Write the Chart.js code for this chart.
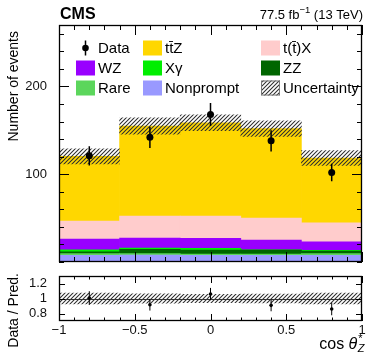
<!DOCTYPE html>
<html>
<head>
<meta charset="utf-8">
<title>ttZ differential cos theta*_Z</title>
<script src="https://cdn.jsdelivr.net/npm/chart.js@4.4.1/dist/chart.umd.min.js"></script>
<style>
  html, body { margin: 0; padding: 0; background: #fff; }
  #wrap { position: relative; width: 366px; height: 353px; overflow: hidden; background: #fff; }
  #wrap canvas { position: absolute; left: 0; }
  #main { top: 0; }
  #ratio { top: 262px; }
</style>
</head>
<body>
<div id="wrap">
  <canvas id="main" width="366" height="270"></canvas>
  <canvas id="ratio" width="366" height="91"></canvas>
</div>
<script>
// Bin edges in cos(theta*_Z) and yields per bin
const binEdges = [-1, -0.6, -0.2, 0.2, 0.6, 1];
const dataCounts = [121, 142, 168, 138, 102];
const dataErrors = [11, 12, 13, 12, 10];
const ttZ = [73.6, 102.5, 106.3, 101.8, 74.0];
const ttX = [20.7, 25.1, 25.3, 25.2, 21.4];
const WZ = [12.0, 11.3, 11.3, 10.9, 9.8];
const Xgamma = [2.3, 1.5, 2.2, 0.5, 0.8];
const ZZ = [2.2, 5.0, 4.5, 4.5, 3.0];
const rare = [2.0, 1.5, 1.5, 1.5, 2.0];
const nonprompt = [7.5, 8.0, 7.5, 7.5, 7.5];
const predUncertainty = [8.5, 9.4, 9.0, 8.8, 8.5];

// Axis tick values
const xTickValues = [-1, -0.5, 0, 0.5, 1];
const yTickValues = [100, 200];
const ratioTickValues = [0.8, 1, 1.2];

const FONT = "'Liberation Sans', Arial, Helvetica, sans-serif";

// Stack, bottom to top
const components = [
  { label: 'Nonprompt', values: nonprompt, color: '#9999ff' },
  { label: 'Rare',      values: rare,      color: '#5cd65c' },
  { label: 'ZZ',        values: ZZ,        color: '#006600' },
  { label: 'X\u03b3',   values: Xgamma,    color: '#00ee00' },
  { label: 'WZ',        values: WZ,        color: '#9900ff' },
  { label: 't(t\u0304)X', values: ttX,     color: '#ffcccc' },
  { label: 'tt\u0304Z', values: ttZ,       color: '#ffd700' }
];

const centers = binEdges.slice(0, -1).map((e, i) => (e + binEdges[i + 1]) / 2);
const totals = centers.map((_, i) => components.reduce((s, c) => s + c.values[i], 0));
const ratio = dataCounts.map((d, i) => d / totals[i]);
const ratioErr = dataErrors.map((e, i) => e / totals[i]);
const ratioUnc = predUncertainty.map((u, i) => u / totals[i]);

function hatch(ctx) {
  const s = 4;
  const c = document.createElement('canvas');
  c.width = s; c.height = s;
  const g = c.getContext('2d');
  g.strokeStyle = '#2e2e2e';
  g.lineWidth = 1.05;
  g.beginPath();
  g.moveTo(0, s); g.lineTo(s, 0);
  g.moveTo(-1, 1); g.lineTo(1, -1);
  g.moveTo(s - 1, s + 1); g.lineTo(s + 1, s - 1);
  g.stroke();
  return ctx.createPattern(c, 'repeat');
}

const fmt = v => String(v).replace('-', '\u2212');

// Frame around the plotting area with inward ticks on all four sides
function frameTicks(spec) {
  return {
    id: 'frameTicks',
    afterDatasetsDraw(chart) {
      const { ctx, chartArea: a, scales: { x, y } } = chart;
      ctx.save();
      ctx.strokeStyle = '#000';
      ctx.lineWidth = 1;
      ctx.beginPath();
      const nx = Math.round((x.max - x.min) / spec.xMinor);
      for (let k = 0; k <= nx; k++) {
        const v = x.min + k * spec.xMinor;
        const r = v / spec.xMajor;
        const major = Math.abs(r - Math.round(r)) < 1e-6;
        const len = major ? spec.xMajorLen : spec.xMinorLen;
        const px = Math.round(x.getPixelForValue(v)) + 0.5;
        ctx.moveTo(px, a.bottom); ctx.lineTo(px, a.bottom - len);
        ctx.moveTo(px, a.top); ctx.lineTo(px, a.top + len);
      }
      const yVals = [];
      if (spec.yMinor) {
        const ny = Math.floor((y.max - y.min) / spec.yMinor + 1e-6);
        for (let k = 0; k <= ny; k++) yVals.push(y.min + k * spec.yMinor);
      } else {
        spec.yMajors.forEach(v => yVals.push(v));
      }
      yVals.forEach(v => {
        const major = spec.yMajors.some(m => Math.abs(m - v) < 1e-6);
        const len = major ? spec.yMajorLen : spec.yMinorLen;
        const py = Math.round(y.getPixelForValue(v)) + 0.5;
        ctx.moveTo(a.left, py); ctx.lineTo(a.left + len, py);
        ctx.moveTo(a.right, py); ctx.lineTo(a.right - len, py);
      });
      ctx.stroke();
      ctx.lineWidth = 1.3;
      ctx.strokeRect(a.left + 0.5, a.top + 0.5, a.right - a.left - 1, a.bottom - a.top - 1);
      ctx.restore();
    }
  };
}

function errorBars(values, errors, width) {
  return {
    id: 'errorBars',
    afterDatasetsDraw(chart) {
      const { ctx, scales: { x, y } } = chart;
      ctx.save();
      ctx.strokeStyle = '#000';
      ctx.lineWidth = width;
      ctx.beginPath();
      values.forEach((v, i) => {
        const px = x.getPixelForValue(centers[i]);
        ctx.moveTo(px, y.getPixelForValue(v - errors[i]));
        ctx.lineTo(px, y.getPixelForValue(v + errors[i]));
      });
      ctx.stroke();
      ctx.restore();
    }
  };
}

const mainCtx = document.getElementById('main').getContext('2d');
const ratioCtx = document.getElementById('ratio').getContext('2d');
const mainHatch = hatch(mainCtx);
const ratioHatch = hatch(ratioCtx);

const legendPlugin = {
  id: 'legendBox',
  afterDraw(chart) {
    const ctx = chart.ctx;
    const colBox = [76, 143, 261];
    const colText = [98, 165, 283];
    const rowY = [48, 68, 88];
    const byLabel = l => components.find(c => c.label === l);
    const rows = [
      ['Data', 'tt\u0304Z', 't(t\u0304)X'],
      ['WZ', 'X\u03b3', 'ZZ'],
      ['Rare', 'Nonprompt', 'Uncertainty']
    ];
    ctx.save();
    ctx.font = '15px ' + FONT;
    ctx.textBaseline = 'middle';
    ctx.textAlign = 'left';
    rows.forEach((row, r) => {
      row.forEach((label, c) => {
        const bx = colBox[c], by = rowY[r] - 7.5;
        if (label === 'Data') {
          ctx.fillStyle = '#000';
          ctx.beginPath();
          ctx.arc(bx + 9.5, rowY[r], 3.3, 0, Math.PI * 2);
          ctx.fill();
          ctx.strokeStyle = '#000';
          ctx.lineWidth = 1.5;
          ctx.beginPath();
          ctx.moveTo(bx + 9.5, by); ctx.lineTo(bx + 9.5, by + 15);
          ctx.stroke();
        } else if (label === 'Uncertainty') {
          ctx.fillStyle = mainHatch;
          ctx.fillRect(bx, by, 19, 15);
          ctx.strokeStyle = '#777';
          ctx.lineWidth = 1;
          ctx.strokeRect(bx + 0.5, by + 0.5, 18, 14);
        } else {
          ctx.fillStyle = byLabel(label).color;
          ctx.fillRect(bx, by, 19, 15);
        }
        ctx.fillStyle = '#000';
        ctx.fillText(label, colText[c], rowY[r] + 0.5);
      });
    });
    ctx.restore();
  }
};

const headerPlugin = {
  id: 'header',
  afterDraw(chart) {
    const ctx = chart.ctx;
    ctx.save();
    ctx.fillStyle = '#000';
    ctx.textBaseline = 'alphabetic';
    ctx.font = 'bold 16px ' + FONT;
    ctx.textAlign = 'left';
    ctx.fillText('CMS', 60, 19);
    // luminosity label, right aligned
    const big = '13px ' + FONT, small = '9.5px ' + FONT;
    const p1 = '77.5 fb', sup = '\u22121', p2 = ' (13 TeV)';
    ctx.font = big; const w1 = ctx.measureText(p1).width, w3 = ctx.measureText(p2).width;
    ctx.font = small; const w2 = ctx.measureText(sup).width;
    let x0 = 363 - (w1 + w2 + w3);
    ctx.font = big; ctx.fillText(p1, x0, 19);
    ctx.font = small; ctx.fillText(sup, x0 + w1, 13);
    ctx.font = big; ctx.fillText(p2, x0 + w1 + w2, 19);
    // y axis title
    ctx.font = '14px ' + FONT;
    ctx.translate(14, 31);
    ctx.rotate(-Math.PI / 2);
    ctx.textAlign = 'right';
    ctx.textBaseline = 'middle';
    ctx.fillText('Number of events', 0, 0);
    ctx.restore();
  }
};

const sideAxis = (ticks, min, max, stacked) => ({
  type: 'linear', min, max, stacked,
  grid: { display: false }, border: { display: false },
  afterBuildTicks: s => { s.ticks = ticks.map(v => ({ value: v })); },
  ticks: { padding: 4, color: '#111', font: { family: FONT, size: 13 }, callback: v => fmt(v) },
  afterFit: s => { s.width = 59; s.paddingTop = 0; s.paddingBottom = 0; }
});

new Chart(mainCtx, {
  type: 'bar',
  data: {
    datasets: [
      {
        type: 'scatter', label: 'Data', stack: 'data', order: -2,
        data: dataCounts.map((v, i) => ({ x: centers[i], y: v })),
        pointRadius: 3.5, pointBackgroundColor: '#000', pointBorderWidth: 0
      },
      {
        label: 'Uncertainty', stack: 'unc', grouped: false, order: -1,
        data: totals.map((t, i) => ({ x: centers[i], y: [t - predUncertainty[i], t + predUncertainty[i]] })),
        backgroundColor: mainHatch, borderWidth: 0, barPercentage: 1, categoryPercentage: 1
      },
      ...components.map(c => ({
        label: c.label,
        data: c.values.map((v, i) => ({ x: centers[i], y: v })),
        backgroundColor: c.color, borderWidth: 0,
        barPercentage: 1, categoryPercentage: 1
      }))
    ]
  },
  options: {
    responsive: false, animation: false, devicePixelRatio: 1, events: [],
    layout: { padding: { top: 25, right: 1, bottom: 8, left: 0 } },
    plugins: { legend: { display: false }, tooltip: { enabled: false } },
    scales: {
      x: {
        type: 'linear', min: -1, max: 1, offset: false, stacked: true, display: false,
        afterBuildTicks: s => { s.ticks = xTickValues.map(v => ({ value: v })); }
      },
      y: sideAxis(yTickValues, 0, 270, true)
    }
  },
  plugins: [
    frameTicks({ xMinor: 0.1, xMajor: 0.5, xMajorLen: 10, xMinorLen: 5, yMinor: 20, yMajors: yTickValues, yMajorLen: 10, yMinorLen: 5 }),
    errorBars(dataCounts, dataErrors, 1.5),
    legendPlugin, headerPlugin
  ]
});

const ratioExtras = {
  id: 'ratioExtras',
  afterDatasetDraw(chart, args) {
    if (args.meta.type !== 'bar') return;
    const { ctx, chartArea: a, scales: { y } } = chart;
    const py = Math.round(y.getPixelForValue(1)) + 0.5;
    ctx.save();
    ctx.strokeStyle = '#333';
    ctx.lineWidth = 1;
    ctx.beginPath(); ctx.moveTo(a.left, py); ctx.lineTo(a.right, py); ctx.stroke();
    ctx.restore();
  },
  afterDraw(chart) {
    const ctx = chart.ctx;
    ctx.save();
    ctx.fillStyle = '#000';
    // y axis title
    ctx.save();
    ctx.font = '14px ' + FONT;
    ctx.translate(14, 11);
    ctx.rotate(-Math.PI / 2);
    ctx.textAlign = 'right';
    ctx.textBaseline = 'middle';
    ctx.fillText('Data / Pred.', 0, 0);
    ctx.restore();
    // x axis title: cos theta*_Z
    const base = 87;
    const fNorm = '16px ' + FONT, fIt = 'italic 16px ' + FONT, fScr = '11px ' + FONT;
    ctx.font = fNorm; const wCos = ctx.measureText('cos ').width;
    ctx.font = fIt; const wTh = ctx.measureText('\u03b8').width;
    ctx.font = fScr; const wScr = Math.max(ctx.measureText('*').width, ctx.measureText('Z').width);
    const x0 = 365 - (wCos + wTh + wScr + 1);
    ctx.textAlign = 'left';
    ctx.textBaseline = 'alphabetic';
    ctx.font = fNorm; ctx.fillText('cos ', x0, base);
    ctx.font = fIt; ctx.fillText('\u03b8', x0 + wCos, base);
    ctx.font = fScr;
    ctx.fillText('*', x0 + wCos + wTh + 1, base - 7);
    ctx.font = 'italic 11px ' + FONT;
    ctx.fillText('Z', x0 + wCos + wTh + 0.5, base + 3);
    ctx.restore();
  }
};

new Chart(ratioCtx, {
  type: 'bar',
  data: {
    datasets: [
      {
        type: 'scatter', label: 'Data / Pred.', stack: 'data', order: -2,
        data: ratio.map((v, i) => ({ x: centers[i], y: v })),
        pointRadius: 1.8, pointBackgroundColor: '#000', pointBorderWidth: 0
      },
      {
        label: 'Uncertainty', stack: 'unc', grouped: false, order: 0,
        data: ratioUnc.map((u, i) => ({ x: centers[i], y: [1 - u, 1 + u] })),
        backgroundColor: ratioHatch, borderWidth: 0, barPercentage: 1, categoryPercentage: 1
      }
    ]
  },
  options: {
    responsive: false, animation: false, devicePixelRatio: 1, events: [],
    layout: { padding: { top: 14, right: 1, bottom: 0, left: 0 } },
    plugins: { legend: { display: false }, tooltip: { enabled: false } },
    scales: {
      x: {
        type: 'linear', min: -1, max: 1, offset: false, stacked: true,
        grid: { display: false }, border: { display: false },
        afterBuildTicks: s => { s.ticks = xTickValues.map(v => ({ value: v })); },
        ticks: { padding: -6, maxRotation: 0, autoSkip: false, color: '#111', font: { family: FONT, size: 13 }, callback: v => fmt(v) },
        afterFit: s => { s.height = 32; s.paddingLeft = 0; s.paddingRight = 0; }
      },
      y: sideAxis(ratioTickValues, 0.7, 1.3, false)
    }
  },
  plugins: [
    frameTicks({ xMinor: 0.1, xMajor: 0.5, xMajorLen: 7, xMinorLen: 3.5, yMinor: null, yMajors: ratioTickValues, yMajorLen: 6, yMinorLen: 3 }),
    errorBars(ratio, ratioErr, 1),
    ratioExtras
  ]
});
</script>
</body>
</html>
